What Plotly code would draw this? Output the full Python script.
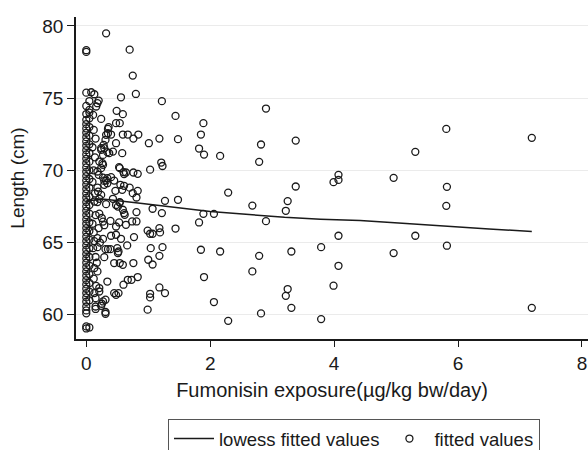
import plotly.graph_objects as go

# Fumonisin exposure (µg/kg bw/day) and length (cm)
exposure = [
    # sparse region (x > 1.4)
    1.44, 1.89, 1.48, 1.85, 1.82, 1.90, 2.16, 2.90, 2.82, 2.79, 3.38, 4.07, 4.07, 3.99, 3.38,
    1.48, 2.29, 2.68, 3.25, 3.22, 1.89, 2.06, 1.82, 2.90, 1.44, 4.07, 1.85, 2.16, 2.79, 3.31,
    3.79, 4.07, 1.90, 2.68, 3.25, 3.22, 3.99, 2.06, 2.82, 3.31, 2.29, 3.79, 5.81, 7.19, 5.31,
    4.96, 5.82, 5.81, 5.31, 5.82, 4.96, 7.19,
    # middle region (0.4 - 1.4)
    0.32, 0.70, 0.75, 0.80, 0.56, 1.22, 0.49, 0.59, 0.48, 0.54, 0.40, 0.59, 0.67, 0.76, 0.84,
    1.01, 1.18, 0.48, 0.58, 0.43, 1.21, 1.23, 1.03, 0.53, 0.60, 0.64, 0.76, 0.83, 0.54, 0.61,
    0.40, 0.45, 0.55, 0.61, 0.58, 0.70, 0.75, 0.83, 0.81, 0.47, 0.43, 0.54, 0.51, 0.54, 0.59,
    0.61, 0.81, 1.07, 1.27, 1.22, 0.48, 0.62, 0.53, 0.39, 0.74, 0.81, 0.64, 0.48, 0.99, 1.03,
    1.07, 1.18, 1.19, 0.77, 0.56, 0.48, 0.40, 0.66, 1.04, 1.23, 0.52, 0.51, 0.50, 0.39, 1.18,
    0.45, 0.54, 0.59, 0.76, 1.00, 1.07, 0.83, 0.73, 0.60, 0.67, 0.48, 0.52, 0.45, 1.18, 1.27,
    1.03, 1.03, 0.99,
    # near zero (0.1 - 0.4)
    0.08, 0.13, 0.20, 0.18, 0.16, 0.05, 0.11, 0.24, 0.36, 0.35, 0.35, 0.32, 0.31, 0.28, 0.24,
    0.27, 0.34, 0.37, 0.29, 0.24, 0.26, 0.21, 0.27, 0.24, 0.18, 0.20, 0.34, 0.29, 0.34, 0.29,
    0.32, 0.27, 0.18, 0.19, 0.24, 0.21, 0.18, 0.13, 0.32, 0.21, 0.25, 0.27, 0.29, 0.15, 0.13,
    0.18, 0.22, 0.27, 0.11, 0.18, 0.31, 0.35, 0.29, 0.13, 0.18, 0.34, 0.21, 0.13, 0.21, 0.15,
    0.27, 0.31, 0.25, 0.15, 0.31, 0.31, 0.15, 0.24, 0.12, 0.15, 0.10, 0.14, 0.12, 0.10, 0.14,
    0.10, 0.12, 0.15, 0.12, 0.16, 0.17, 0.20,
    # column at zero
    0.0, 0.0, 0.0, 0.0, 0.0, 0.0, 0.0, 0.0, 0.0, 0.0, 0.0, 0.0, 0.0, 0.0, 0.0, 0.0, 0.0, 0.0,
    0.0, 0.0, 0.0, 0.0, 0.0, 0.0, 0.0, 0.0, 0.0, 0.0, 0.0, 0.0, 0.0, 0.0, 0.0, 0.0, 0.0, 0.0,
    0.0, 0.0, 0.0, 0.0, 0.0, 0.0, 0.0, 0.0, 0.0, 0.0, 0.0, 0.0, 0.0, 0.0, 0.0, 0.0, 0.0,
    0.05, 0.05, 0.05, 0.05, 0.05, 0.05, 0.05, 0.05, 0.05, 0.05, 0.05, 0.05, 0.05, 0.05, 0.05,
    0.05, 0.05, 0.05, 0.05, 0.05, 0.05, 0.05, 0.05, 0.05, 0.05,
]
length = [
    # sparse region
    73.77, 73.27, 72.16, 72.48, 71.51, 71.09, 71.00, 74.28, 71.79, 70.59, 72.06, 69.69, 69.34, 69.18, 68.88,
    67.96, 68.46, 67.56, 67.87, 67.20, 66.99, 66.99, 66.39, 66.48, 65.97, 65.47, 64.50, 64.38, 64.08, 64.38,
    64.68, 63.39, 62.61, 63.00, 61.78, 61.31, 62.01, 60.88, 60.09, 60.48, 59.58, 59.70, 72.87, 72.25, 71.28,
    69.48, 68.86, 67.54, 65.47, 64.78, 64.27, 60.48,
    # middle region
    79.49, 78.36, 76.56, 75.29, 75.06, 74.79, 74.12, 73.89, 73.27, 73.27, 72.48, 72.48, 72.48, 72.20, 72.48,
    71.88, 72.20, 71.88, 71.19, 71.30, 70.54, 70.30, 70.05, 70.22, 69.88, 69.85, 69.85, 69.76, 70.15, 69.74,
    69.53, 69.29, 69.00, 68.93, 68.65, 68.80, 68.42, 68.58, 68.12, 68.58, 68.03, 67.80, 67.49, 67.77, 67.27,
    67.04, 67.11, 67.34, 67.89, 67.04, 67.60, 66.92, 66.39, 66.50, 66.46, 66.46, 66.23, 66.11, 65.83, 65.61,
    65.61, 66.00, 65.70, 65.38, 65.26, 65.54, 65.47, 64.80, 64.61, 64.68, 64.38, 64.27, 64.61, 64.54, 64.08,
    63.58, 63.58, 63.46, 63.58, 63.81, 63.48, 62.61, 62.42, 62.08, 62.42, 61.38, 61.50, 61.50, 61.89, 61.50,
    61.45, 61.20, 60.35,
    # near zero
    75.41, 75.27, 74.83, 74.65, 74.42, 74.19, 73.84, 73.56, 72.99, 72.57, 72.87, 72.46, 72.11, 71.76, 71.42,
    71.07, 71.26, 71.19, 71.54, 71.54, 70.50, 70.61, 70.38, 70.15, 69.92, 69.69, 69.46, 69.27, 69.11, 69.00,
    69.30, 69.50, 68.81, 68.53, 68.30, 68.03, 67.80, 67.84, 67.66, 67.00, 66.70, 66.45, 66.20, 66.90, 65.10,
    65.30, 65.00, 65.25, 64.61, 64.68, 64.54, 64.54, 63.99, 63.23, 63.00, 62.30, 61.85, 61.50, 61.61, 61.15,
    60.92, 61.04, 60.76, 60.57, 60.19, 60.07, 60.40, 60.62, 72.80, 72.20, 71.60, 70.90, 70.00, 69.20, 68.40,
    66.30, 65.70, 64.00, 62.50, 62.00, 63.60, 66.00,
    # column at zero
    78.20, 78.32, 75.38, 74.46, 73.90, 73.50, 73.20, 72.90, 72.60, 72.30, 72.00, 71.70, 71.40, 71.10, 70.80,
    70.50, 70.20, 69.90, 69.60, 69.30, 69.00, 68.70, 68.40, 68.10, 67.80, 67.50, 67.20, 66.90, 66.60, 66.30,
    66.00, 65.70, 65.40, 65.10, 64.80, 64.50, 64.20, 63.90, 63.60, 63.30, 63.00, 62.70, 62.40, 62.10, 61.80,
    61.50, 61.20, 60.90, 60.57, 60.30, 60.10, 59.19, 59.05,
    74.80, 74.00, 73.60, 73.00, 72.40, 71.80, 71.20, 70.60, 70.00, 69.40, 68.80, 68.20, 67.60, 67.00, 66.40,
    65.80, 65.20, 64.60, 64.00, 63.40, 62.80, 62.20, 61.60, 61.00, 59.12,
]

lowess_x = [0.0, 0.3, 0.8, 1.37, 2.0, 2.68, 3.2, 3.78, 4.42, 5.1, 5.8, 6.5, 7.19]
lowess_y = [67.9, 68.0, 67.75, 67.45, 67.15, 66.92, 66.75, 66.62, 66.53, 66.33, 66.11, 65.94, 65.77]

x_ticks = [0, 2, 4, 6, 8]
y_ticks = [60, 65, 70, 75, 80]

FONT = "Liberation Sans, Arial, Helvetica, sans-serif"
INK = "#1a1a1a"

fig = go.Figure()
fig.add_trace(go.Scatter(
    x=lowess_x, y=lowess_y, mode="lines", name="lowess fitted values",
    line=dict(color=INK, width=1.5),
))
fig.add_trace(go.Scatter(
    x=exposure, y=length, mode="markers", name="fitted values",
    marker=dict(symbol="circle-open", size=7, color=INK, line=dict(width=1.3, color=INK)),
))

fig.update_layout(
    width=588, height=450,
    margin=dict(l=76, r=0, t=17, b=111, autoexpand=False),
    paper_bgcolor="white", plot_bgcolor="white",
    font=dict(family=FONT, size=18, color=INK),
    showlegend=True,
    legend=dict(
        orientation="h", x=168 / 588, xanchor="left", xref="container",
        yref="container", y=1 - 419 / 450, yanchor="top",
        bordercolor="#555555", borderwidth=1, font=dict(size=18.5),
        itemwidth=40, tracegroupgap=0,
    ),
    xaxis=dict(
        range=[-0.166, 8.097], tickvals=x_ticks, ticktext=[str(v) for v in x_ticks],
        showgrid=False, zeroline=False, showline=True, linecolor=INK, linewidth=1.5,
        ticks="outside", ticklen=6, tickwidth=1.2, tickcolor=INK,
        tickfont=dict(size=19), automargin=False,
        title=dict(text="Fumonisin exposure(µg/kg bw/day)", font=dict(size=20), standoff=10),
    ),
    yaxis=dict(
        range=[58.32, 80.62], tickvals=y_ticks, ticktext=[str(v) for v in y_ticks],
        showgrid=True, gridcolor="#ebebeb", gridwidth=1.2,
        zeroline=False, showline=True, linecolor=INK, linewidth=1.5,
        ticks="outside", ticklen=7, tickwidth=1.2, tickcolor=INK,
        tickfont=dict(size=19), automargin=False,
        title=dict(text="Length (cm)", font=dict(size=19), standoff=13),
    ),
)

fig.write_html(
    "out.html",
    config={"displayModeBar": False},
    post_script="document.body.style.margin='0';",
)
